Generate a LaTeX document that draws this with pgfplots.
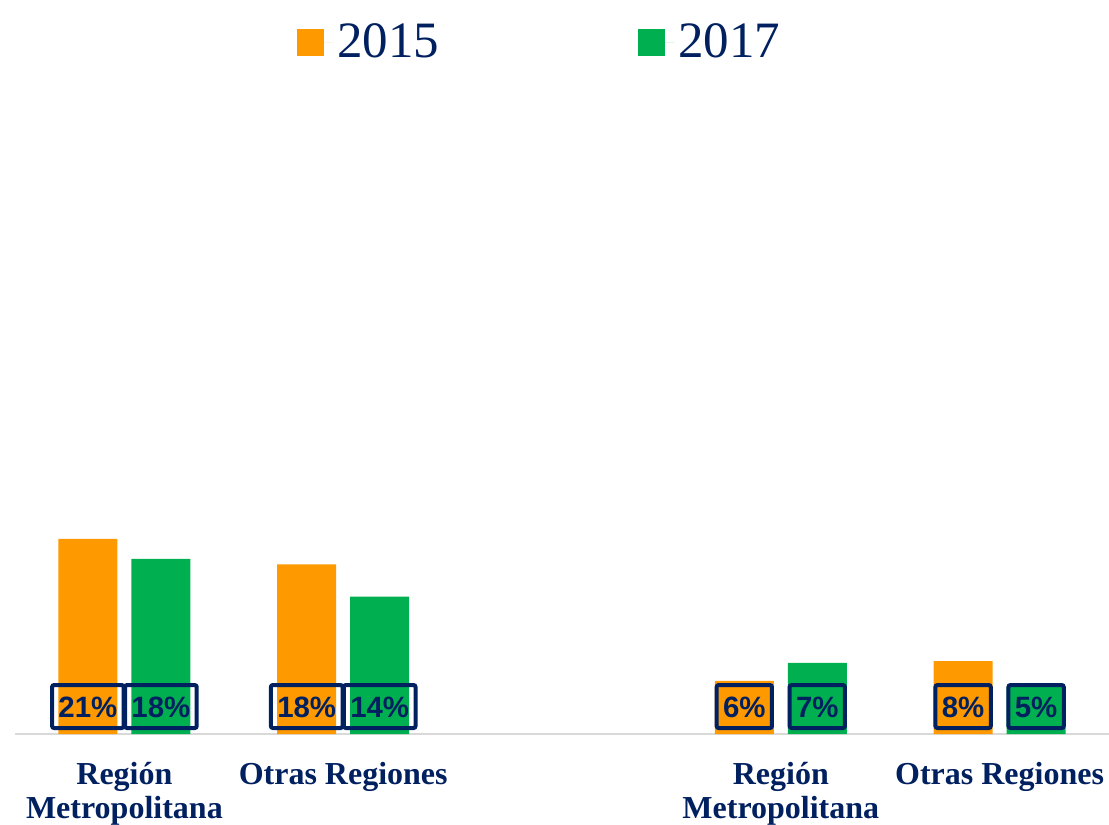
\documentclass[border=0pt]{standalone}
\usepackage{pgfplots}
\pgfplotsset{compat=1.18}
\usepackage{pgfplotstable}
\usepackage{fontspec}
\setmainfont{Liberation Serif}
\newfontfamily\arialf{Liberation Sans}
\definecolor{cOr}{HTML}{FF9900}
\definecolor{cGr}{HTML}{00B050}
\definecolor{cNv}{HTML}{002060}
\definecolor{cGy}{HTML}{D9D9D9}

\pgfplotstableread{
x y lab ly
0 20.6 21 2.9
1 17.9 18 2.9
3 5.6 6 2.9
4 7.7 8 2.9
}\datA
\pgfplotstableread{
x y lab ly
0 18.5 18 2.9
1 14.5 14 2.9
3 7.5 7 2.9
4 5.0 5 2.9
}\datB

\tikzset{lbl/.style={draw=cNv, line width=2pt, rounded corners=1pt, inner xsep=3.2pt, inner ysep=5.5pt, text height=10.5pt, text depth=0pt, font=\arialf\fontsize{14.7}{14.7}\selectfont\bfseries, text=cNv, anchor=center}}

\begin{document}
\begin{tikzpicture}
\begin{axis}[
 scale only axis, width=547pt, height=322pt,
 xmin=-0.5, xmax=4.5, ymin=0, ymax=68,
 axis x line*=bottom, axis y line=none,
 x axis line style={draw=cGy, line width=1pt},
 xtick={0,1,3,4},
 xticklabels={Región\\Metropolitana, Otras Regiones, Región\\Metropolitana, Otras Regiones},
 xticklabel style={font=\fontsize{16}{17}\selectfont\bfseries, text=cNv, align=center, yshift=-10.5pt},
 major tick length=0pt,
 ytick=\empty,
 clip=false,
 legend style={draw=none, fill=none, at={(0.4807,1.0745)}, anchor=center, legend columns=2, font=\fontsize{25.5}{30}\selectfont, text=cNv, nodes={inner xsep=2pt}, /tikz/every even column/.append style={column sep=97.5pt}},
 legend cell align=left,
]
\addplot[ybar, bar width=29.5pt, bar shift=-18.25pt, fill=cOr, draw=none, legend image code/.code={\fill[cOr] (0pt,-6.75pt) rectangle (13.5pt,6.75pt); \path (0pt,0pt) -- (18pt,0pt);}] table[x=x,y=y]{\datA};
\addlegendentry{2015}
\addplot[ybar, bar width=29.5pt, bar shift=18.25pt, fill=cGr, draw=none, legend image code/.code={\fill[cGr] (0pt,-6.75pt) rectangle (13.5pt,6.75pt); \path (0pt,0pt) -- (18pt,0pt);}] table[x=x,y=y]{\datB};
\addlegendentry{2017}
\addplot[draw=none, mark=none, forget plot, nodes near coords={\pgfplotspointmeta\%}, point meta=explicit symbolic, every node near coord/.style={lbl, xshift=-18.25pt}] table[x=x,y=ly,meta=lab]{\datA};
\addplot[draw=none, mark=none, forget plot, nodes near coords={\pgfplotspointmeta\%}, point meta=explicit symbolic, every node near coord/.style={lbl, xshift=18.25pt}] table[x=x,y=ly,meta=lab]{\datB};
\coordinate (bl) at (rel axis cs:0,0);
\coordinate (tr) at (rel axis cs:1,1);
\end{axis}
\pgfresetboundingbox
\path ([xshift=-7.5pt,yshift=-45.5pt]bl) rectangle ([yshift=45pt]tr);
\end{tikzpicture}
\end{document}
